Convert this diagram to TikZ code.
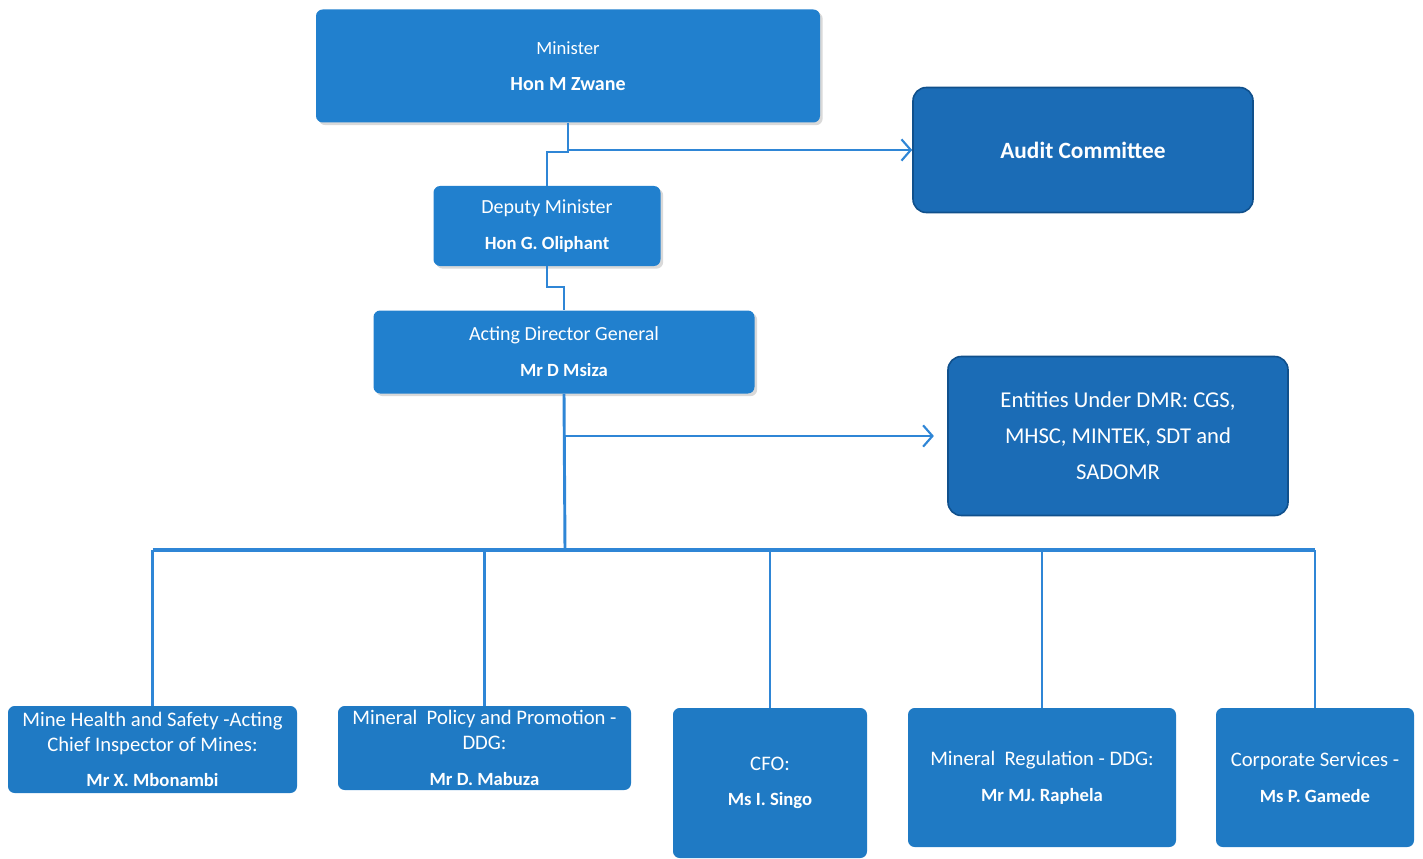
\documentclass[tikz,border=0pt]{standalone}
\usepackage{fontspec}
\setmainfont{Carlito}
\usepackage{tikz}
\usetikzlibrary{arrows.meta,shadows}

\definecolor{boxblue}{RGB}{33,128,206}
\definecolor{darkblue}{RGB}{27,108,182}
\definecolor{edgeblue}{RGB}{16,80,140}
\definecolor{lineblue}{RGB}{47,134,214}

\tikzset{
  unitbox/.style={rounded corners=5pt, fill=boxblue, text=white, align=center, inner sep=0pt},
  topbox/.style={unitbox, drop shadow={opacity=0.3, shadow xshift=2pt, shadow yshift=-2pt},
    font=\fontsize{15}{27}\selectfont},
  sidebox/.style={unitbox, rounded corners=10pt, fill=darkblue, draw=edgeblue, line width=1.2pt},
  lowbox/.style={unitbox, fill=boxblue!95!black, font=\fontsize{15.5}{18.75}\selectfont},
  link/.style={draw=lineblue, line width=2.2pt},
  feed/.style={draw=lineblue, line width=1.6pt, -{Straight Barb[length=7pt,width=16pt]}},
}

\begin{document}
\begin{tikzpicture}[x=0.75pt, y=-0.75pt]
  \useasboundingbox (0,0) rectangle (1423,859);

  % top of the chart
  \node[topbox, minimum width=504*0.75pt, minimum height=113*0.75pt] (minister) at (568,66)
    {\fontsize{14}{27}\selectfont Minister\\ \bfseries Hon M Zwane};
  \node[topbox, minimum width=227*0.75pt, minimum height=80*0.75pt] (deputy) at (547,226)
    {Deputy Minister\\ \bfseries\fontsize{14}{27}\selectfont Hon G. Oliphant};
  \node[topbox, minimum width=381*0.75pt, minimum height=83*0.75pt] (dg) at (564,352)
    {Acting Director General\\ \bfseries\fontsize{14}{27}\selectfont Mr D Msiza};

  \node[sidebox, minimum width=340*0.75pt, minimum height=125*0.75pt,
    font=\bfseries\fontsize{17.5}{21}\selectfont] (audit) at (1083,150) {Audit Committee};
  \node[sidebox, minimum width=340*0.75pt, minimum height=159*0.75pt,
    font=\fontsize{17}{27}\selectfont] (entities) at (1118,436)
    {Entities Under DMR: CGS,\\ MHSC, MINTEK, SDT and\\ SADOMR};

  % branches
  \node[lowbox, minimum width=289*0.75pt, minimum height=87*0.75pt] (mhs) at (152.5,749.5)
    {Mine Health and Safety -Acting\\ Chief Inspector of Mines:\\[7.5pt] \bfseries\fontsize{14}{18}\selectfont Mr X. Mbonambi};
  \node[lowbox, minimum width=293*0.75pt, minimum height=84*0.75pt] (mpp) at (484.5,748)
    {Mineral\ \ Policy and Promotion -\\ DDG:\\[8pt] \bfseries\fontsize{14}{18}\selectfont Mr D. Mabuza};
  \node[lowbox, minimum width=194*0.75pt, minimum height=150*0.75pt] (cfo) at (770,783)
    {CFO:\\[7.5pt] \bfseries\fontsize{14}{18}\selectfont Ms I. Singo};
  \node[lowbox, minimum width=268*0.75pt, minimum height=139*0.75pt] (mr) at (1042,777.5)
    {Mineral\ \ Regulation - DDG:\\[8pt] \bfseries\fontsize{14}{18}\selectfont Mr MJ. Raphela};
  \node[lowbox, minimum width=198*0.75pt, minimum height=139*0.75pt] (cs) at (1315,777.5)
    {Corporate Services -\\[8pt] \bfseries\fontsize{14}{18}\selectfont Ms P. Gamede};

  \coordinate (j1) at (568,152);
  \coordinate (j2) at (547,287);
  \coordinate (bus) at (565,550);

  \draw[link] (minister.south) -- (j1) -| (deputy.north);
  \draw[feed] (minister.south) |- (audit.west);
  \draw[link] (deputy.south) -- (j2) -| (dg.north);
  \draw[feed, shorten >=10pt] (dg.south) |- (entities.west);
  \draw[link] (dg.south) -- (bus);
  \draw[link, line width=3pt] (mhs.north |- bus) -- (cs.north |- bus);
  \foreach \n in {mhs,mpp,cfo,mr,cs}
    \draw[link] (\n.north |- bus) -- (\n.north);
\end{tikzpicture}
\end{document}
